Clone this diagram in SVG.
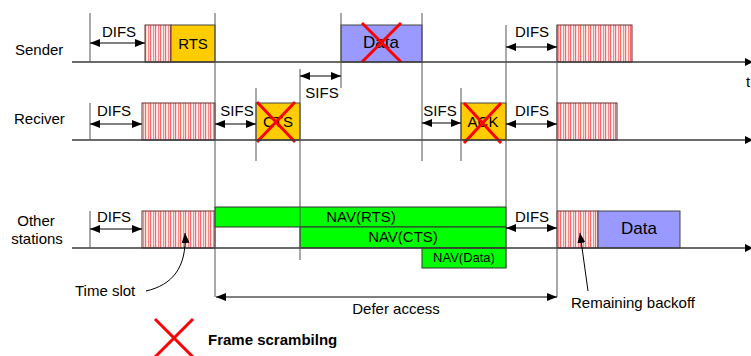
<svg xmlns="http://www.w3.org/2000/svg" width="751" height="356" viewBox="0 0 751 356">
<style>
text{font-family:"Liberation Sans",Arial,sans-serif;fill:#000}
.l{font-size:15px}
.m{font-size:15px;text-anchor:middle}
.axis{stroke:#3a3a3a;stroke-width:1.5;fill:none}
.v{stroke:#555;stroke-width:1;fill:none}
.dim{stroke:#000;stroke-width:1;fill:none;marker-start:url(#ah);marker-end:url(#ah)}
.bo{fill:url(#hatch);stroke:#6a3030;stroke-width:1}
.ctl{fill:#FFCC00;stroke:#444;stroke-width:1}
.data{fill:#9999FF;stroke:#444;stroke-width:1}
.nav{fill:#00FF00;stroke:#333;stroke-width:1}
.x{stroke:#FF0000;stroke-width:3;fill:none}
</style>
<defs>
<pattern id="hatch" width="5" height="10" patternUnits="userSpaceOnUse">
<rect width="5" height="10" fill="#ffd8d8"/>
<rect x="0" width="1" height="10" fill="#f26a6a"/>
<rect x="2" width="1" height="10" fill="#fff4f4"/>
<rect x="3" width="1" height="10" fill="#f48a8a"/>
</pattern>
<marker id="ah" viewBox="0 0 10 8" refX="10" refY="4" markerWidth="10" markerHeight="8" markerUnits="userSpaceOnUse" orient="auto-start-reverse">
<path d="M0,0 L10,4 L0,8 z" fill="#000"/>
</marker>
<marker id="ae" viewBox="0 0 10 8" refX="10" refY="4" markerWidth="10" markerHeight="8" markerUnits="userSpaceOnUse" orient="auto">
<path d="M0,0 L10,4 L0,8 z" fill="#000"/>
</marker>
<marker id="ax" viewBox="0 0 8 8" refX="0" refY="4" markerWidth="8" markerHeight="8" markerUnits="userSpaceOnUse" orient="auto">
<path d="M0,0 L8,4 L0,8 z" fill="#000"/>
</marker>
</defs>

<g id="labels">
<text class="l" x="15" y="55">Sender</text>
<text class="l" x="14" y="124">Reciver</text>
<text class="m" x="36" y="226">Other</text>
<text class="m" x="37" y="244">stations</text>
<text class="l" x="746" y="87">t</text>
</g>

<g id="sender-backoff"><rect class="bo" x="145" y="25" width="26" height="37"/></g>
<g id="rts"><rect class="ctl" x="171" y="25" width="44" height="37"/><text class="m" x="193" y="49">RTS</text></g>
<g id="sender-data"><rect class="data" x="341" y="25" width="81" height="37"/><text class="m" x="381" y="48" style="font-size:17px">Data</text>
<path class="x" d="M362,23 L401,62 M401,23 L362,62"/></g>
<g id="sender-backoff2"><rect class="bo" x="557" y="25" width="75" height="37"/></g>

<g id="recv-backoff"><rect class="bo" x="142" y="103" width="73" height="37"/></g>
<g id="cts"><rect class="ctl" x="256" y="103" width="44" height="37"/><text class="m" x="278" y="127">CTS</text>
<path class="x" d="M257,102 L295,142 M295,102 L257,142"/></g>
<g id="ack"><rect class="ctl" x="461" y="103" width="45" height="37"/><text class="m" x="483" y="127">ACK</text>
<path class="x" d="M464,103 L501,143 M501,103 L464,143"/></g>
<g id="recv-backoff2"><rect class="bo" x="557" y="103" width="60" height="37"/></g>

<g id="other-backoff"><rect class="bo" x="142" y="211" width="73" height="37"/></g>
<g id="nav-rts"><rect class="nav" x="215" y="207" width="291" height="20"/><text class="m" x="361" y="222">NAV(RTS)</text></g>
<g id="nav-cts"><rect class="nav" x="300" y="227" width="206" height="21"/><text class="m" x="403" y="242">NAV(CTS)</text></g>
<g id="nav-data"><rect class="nav" x="422" y="248" width="84" height="20"/><text class="m" x="464" y="262" style="font-size:13px">NAV(Data)</text></g>
<g id="other-backoff2"><rect class="bo" x="557" y="211" width="41" height="37"/></g>
<g id="other-data"><rect class="data" x="598" y="211" width="82" height="37"/><text class="m" x="639" y="234" style="font-size:17px">Data</text></g>

<g id="legend">
<path class="x" d="M155,319 L193,357 M193,319 L155,357"/>
<text x="208" y="345" style="font-size:15px;font-weight:bold">Frame scrambilng</text>
</g>

<g id="connectors">
<line class="axis" x1="72" y1="62" x2="745" y2="62" marker-end="url(#ax)"/>
<line class="axis" x1="72" y1="140" x2="745" y2="140" marker-end="url(#ax)"/>
<line class="axis" x1="72" y1="248" x2="745" y2="248" marker-end="url(#ax)"/>

<path class="v" d="M90,13V62 M90,103V140 M90,211V248 M215,13V297 M256,88V161 M300,69V260 M341,13V88 M422,13V161 M461,88V161 M506,25V268 M557,25V297"/>

<line class="dim" x1="90" y1="43" x2="145" y2="43"/>
<text class="m" x="119" y="37">DIFS</text>
<line class="dim" x1="506" y1="47" x2="557" y2="47"/>
<text class="m" x="532" y="37">DIFS</text>
<line class="dim" x1="300" y1="76" x2="341" y2="76"/>
<text class="m" x="322" y="98">SIFS</text>

<line class="dim" x1="90" y1="124" x2="142" y2="124"/>
<text class="m" x="114" y="116">DIFS</text>
<line class="dim" x1="215" y1="124" x2="256" y2="124"/>
<text class="m" x="237" y="116">SIFS</text>
<line class="dim" x1="422" y1="123" x2="461" y2="123"/>
<text class="m" x="440" y="116">SIFS</text>
<line class="dim" x1="506" y1="124" x2="557" y2="124"/>
<text class="m" x="532" y="116">DIFS</text>

<line class="dim" x1="90" y1="229" x2="142" y2="229"/>
<text class="m" x="114" y="222">DIFS</text>
<line class="dim" x1="506" y1="228" x2="557" y2="228"/>
<text class="m" x="532" y="222">DIFS</text>

<line class="dim" x1="216" y1="297" x2="557" y2="297"/>
<text class="m" x="396" y="314">Defer access</text>

<path d="M146,291 C172,285 187,268 185,233" stroke="#000" stroke-width="1" fill="none" marker-end="url(#ae)"/>
<text class="l" x="75" y="296">Time slot</text>
<line x1="588" y1="291" x2="580" y2="233" stroke="#000" stroke-width="1" marker-end="url(#ae)"/>
<text class="l" x="571" y="308">Remaining backoff</text>
</g>
</svg>
